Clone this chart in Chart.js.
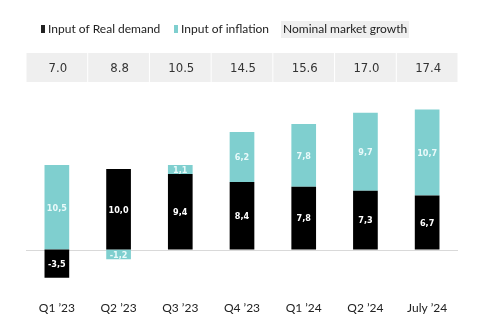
<!DOCTYPE html>
<html>
<head>
<meta charset="utf-8">
<script src="https://cdn.jsdelivr.net/npm/chart.js@4/dist/chart.umd.min.js"></script>
<style>
  html, body { margin: 0; padding: 0; background: #fff; }
  #wrap { width: 492px; height: 336px; position: relative; }
</style>
</head>
<body>
<div id="wrap"><canvas id="chartGrowth" width="492" height="336"></canvas></div>
<script>
// dados
const periodos = ['Q1 \u201923', 'Q2 \u201923', 'Q3 \u201923', 'Q4 \u201923', 'Q1 \u201924', 'Q2 \u201924', 'July \u201924']
const demandaReal = [-3.5, 10.0, 9.4, 8.4, 7.8, 7.3, 6.7]
const inflacao = [10.5, -1.2, 1.1, 6.2, 7.8, 9.7, 10.7]
const crescimentoNominal = ['7.0', '8.8', '10.5', '14.5', '15.6', '17.0', '17.4']

const PRETO = '#000000'
const TURQUESA = '#7fcfcf'
const fonteTexto = 'Lato, "Noto Sans", sans-serif'
const fonteNum = '"Liberation Sans Narrow", "DejaVu Sans Condensed", sans-serif'

function formatarVirgula(v){
  return v.toFixed(1).replace('.', ',')
}

// legenda, linha de crescimento nominal, linha do zero e rotulos
const extras = {
  id: 'extras',
  beforeDatasetsDraw(chart){
    const ctx = chart.ctx
    const y0 = chart.scales.y.getPixelForValue(0)
    ctx.save()
    ctx.strokeStyle = '#d9d9d9'
    ctx.lineWidth = 1
    ctx.beginPath()
    ctx.moveTo(chart.chartArea.left, Math.round(y0) + 0.5)
    ctx.lineTo(chart.chartArea.right, Math.round(y0) + 0.5)
    ctx.stroke()
    ctx.restore()
  },
  afterDraw(chart){
    const ctx = chart.ctx
    const x = chart.scales.x
    ctx.save()

    // legenda
    ctx.font = '12px ' + fonteTexto
    ctx.textBaseline = 'middle'
    ctx.textAlign = 'left'
    ctx.fillStyle = '#222'
    ctx.fillRect(41, 25, 4, 8)
    ctx.fillText('Input of Real demand', 48, 29.5)
    ctx.fillStyle = TURQUESA
    ctx.fillRect(174, 25, 4, 8)
    ctx.fillStyle = '#222'
    ctx.fillText('Input of inflation', 181, 29.5)
    ctx.fillStyle = '#efefef'
    ctx.fillRect(281, 21, 128, 17)
    ctx.fillStyle = '#222'
    ctx.fillText('Nominal market growth', 283, 29.5)

    // faixa com o crescimento nominal
    const passo = x.getPixelForValue(1) - x.getPixelForValue(0)
    ctx.font = '13px ' + fonteNum
    ctx.textAlign = 'center'
    for(let i = 0; i < crescimentoNominal.length; i++){
      const cx = x.getPixelForValue(i)
      ctx.fillStyle = '#efefef'
      ctx.fillRect(cx - passo / 2 + 0.5, 53, passo - 1, 29)
      ctx.fillStyle = '#333'
      ctx.fillText(crescimentoNominal[i], cx + 1, 69)
    }

    // rotulos dentro das barras
    ctx.font = 'bold 9px ' + fonteNum
    const series = [demandaReal, inflacao]
    for(let d = 0; d < series.length; d++){
      const meta = chart.getDatasetMeta(d)
      meta.data.forEach((bar, i) => {
        ctx.fillStyle = d === 0 ? '#ffffff' : '#eafafa'
        ctx.fillText(formatarVirgula(series[d][i]), bar.x, (bar.y + bar.base) / 2 + 1)
      })
    }
    ctx.restore()
  }
}

const ctx = document.getElementById('chartGrowth')

var chartGrowth = new Chart(ctx, {
  type: 'bar',
  data: {
    labels: periodos,
    datasets: [{
      label: 'Input of Real demand',
      data: demandaReal,
      backgroundColor: PRETO,
      borderWidth: 0,
      barPercentage: 0.4,
      categoryPercentage: 1
    }, {
      label: 'Input of inflation',
      data: inflacao,
      backgroundColor: TURQUESA,
      borderWidth: 0,
      barPercentage: 0.4,
      categoryPercentage: 1
    }]
  },
  options: {
    responsive: false,
    animation: false,
    layout: {
      padding: { top: 88.6, left: 26, right: 34, bottom: 8.85 }
    },
    plugins: {
      legend: { display: false },
      tooltip: { enabled: false }
    },
    scales: {
      x: {
        stacked: true,
        border: { display: false },
        grid: { display: false, drawTicks: false },
        ticks: {
          color: '#222',
          padding: 11.5,
          font: { family: fonteTexto, size: 12 }
        }
      },
      y: {
        stacked: true,
        display: false,
        min: -5,
        max: 20
      }
    }
  },
  plugins: [extras]
})
</script>
</body>
</html>
